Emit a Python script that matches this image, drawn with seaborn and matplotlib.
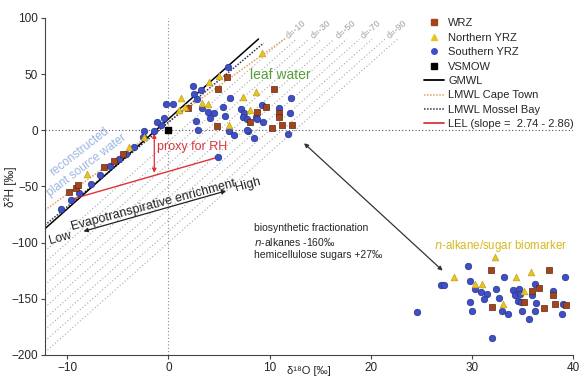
import numpy as np
import pandas as pd
import matplotlib
matplotlib.use("Agg")
import matplotlib.pyplot as plt
import seaborn as sns
from matplotlib.lines import Line2D

# ---------------------------------
# data
# ---------------------------------
# WRZ (brown squares): source water, leaf water, biomarker
wrz_o18 = [-9.8, -9.1, -8.9, -6.4, -5.4, -4.5, 1.9,
           4.8, 4.9, 5.8, 10.4, 9.6, 8.8, 8.1, 10.9, 10.9, 10.2, 11.2, 12.2,
           31.9, 32.0, 37.6, 35.1, 35.9, 36.6, 37.1, 38.0, 38.2, 39.3]
wrz_h2 = [-55, -51, -49, -33, -27, -21, 20,
          4, 37, 47, 37, 21, 16, 7, 15, 12, 2, 5, 5,
          -124, -157, -124, -153, -143, -140, -158, -147, -155, -156]

# Northern YRZ (yellow triangles)
nyrz_o18 = [-8.1, -3.9, -2.4, 1.0, 1.6, 4.0, 9.2,
            3.3, 3.9, 6.0, 7.4, 8.7, 8.1, 1.2, 5.0,
            28.2, 32.3, 30.3, 31.0, 33.1, 34.4, 35.8, 35.1]
nyrz_h2 = [-39, -15, -6, 18, 21, 43, 69,
           24, 23, 5, 30, 34, 18, 29, 48,
           -131, -113, -137, -137, -155, -131, -126, -143]

# Southern YRZ (blue circles)
syrz_o18 = [-10.6, -9.6, -8.8, -7.7, -6.8, -5.8, -4.9, -4.2, -3.4, -2.5, -1.4, -0.7,
            -2.4, 0.4, -0.2, -1.1, -0.4, 3.2, 5.9,
            2.4, 2.5, 2.8, 3.3, 3.9, 4.5, 5.4, 2.7, 4.1, 5.6, 6.0, 6.5, 7.9, 8.5, 6.1,
            9.2, 7.2, 7.5, 7.4, 7.8, 8.7, 8.8, 9.3, 10.9, 12.0, 11.8, 7.8, 12.1, 2.9, 4.9,
            24.6, 26.9, 27.2, 29.6, 29.8, 29.8, 30.0, 30.3, 30.9, 31.5, 31.2, 32.4, 32.7,
            33.0, 33.6, 33.2, 34.1, 34.6, 34.3, 34.7, 34.5, 34.8, 34.9, 35.6, 35.9, 36.3,
            36.2, 36.2, 38.0, 38.9, 39.0, 39.2, 32.0]
syrz_h2 = [-70, -62, -56, -48, -40, -32, -26, -21, -15, -6, -1, 4.5,
           -1, 23, 23, 7, 11, 36, 56,
           39, 32, 28, 20, 16, 15, 21, 8, 11, 13, -1, -4, -1, -7, 29,
           22, 19, 15, 12, 10, 12, 10, 7, 20, 15, -3, 0, 29, 0, -24,
           -162, -137.5, -137.5, -121, -134, -153, -161, -141, -144, -146, -150, -141, -149,
           -161, -164, -131, -142, -141, -147, -146, -152, -153, -161, -168, -147, -154,
           -161, -137, -143, -164, -155, -131, -185]

# meteoric water lines: slope, intercept, x range
gmwl = [8.0, 10.0, -12.2, 8.9]
lmwl_cape = [6.43, 7.4, -12.2, 11.6]
lmwl_mossel = [7.5, 7.0, -12.2, 9.4]
# local evaporation line end points
lel_o18 = [-9.4, 4.9]
lel_h2 = [-61, -24]
# d-excess reference lines
d_excess = [-10, -20, -30, -40, -50, -60, -70, -80, -90, -100]
d_labels = [-10, -30, -50, -70, -90]

blue, brown, yellow = "#3f4fc6", "#a5441c", "#e8c420"

sns.set_style("ticks")
plt.rcParams["font.family"] = ["Liberation Sans", "DejaVu Sans"]

fig = plt.figure(figsize=(5.81, 3.80), dpi=100)
ax = fig.add_axes([0.0775, 0.066, 0.909, 0.887])
ax.set_xlim(-12.2, 40)
ax.set_ylim(-200, 100)

# d-excess lines
for d in d_excess:
    x0 = -12.2
    x1 = (81 - d) / 8.0
    xs = np.array([x0, x1])
    ax.plot(xs, 8 * xs + d, color="#a8a8a8", lw=0.8, ls=(0, (1, 2)), zorder=1)
    if d in d_labels:
        ax.text(x1 + 0.3, 8 * x1 + d + 2, f"d={d}", color="#a0a0a0", fontsize=6.5,
                rotation=41, rotation_mode="anchor", ha="left", va="center")

ax.axhline(0, color="#555555", lw=0.8, ls=(0, (1, 2)), zorder=1)
ax.axvline(0, color="#888888", lw=0.8, ls=(0, (1, 2)), zorder=1)

for (m, b, a0, a1), col, ls in [(lmwl_cape, "#e0a060", (0, (1, 1))),
                                (lmwl_mossel, "#2c3350", (0, (1, 1))),
                                (gmwl, "black", "-")]:
    xs = np.array([a0, a1])
    ax.plot(xs, m * xs + b, color=col, lw=1.1, ls=ls, zorder=2)

ax.plot(lel_o18, lel_h2, color="#e0303a", lw=1.0, zorder=2)

# data points
sns.scatterplot(x=syrz_o18, y=syrz_h2, ax=ax, color=blue, marker="o", s=22,
                edgecolor="#27338a", linewidth=0.5, zorder=4)
sns.scatterplot(x=wrz_o18, y=wrz_h2, ax=ax, color=brown, marker="s", s=20,
                edgecolor="#5c2a10", linewidth=0.5, zorder=4)
sns.scatterplot(x=nyrz_o18, y=nyrz_h2, ax=ax, color=yellow, marker="^", s=24,
                edgecolor="#b89a10", linewidth=0.4, zorder=4)
ax.scatter([0], [0], marker="s", s=20, color="black", zorder=5)

# annotations
ax.annotate("", xy=(-1.4, -3), xytext=(-1.4, -38),
            arrowprops=dict(arrowstyle="<|-|>", color="#e0303a", lw=0.9,
                            mutation_scale=6, shrinkA=0, shrinkB=0))
ax.text(-1.1, -15, "proxy for RH", color="#d9393f", fontsize=9, va="center")

ax.annotate("", xy=(5.7, -54), xytext=(-8.4, -90),
            arrowprops=dict(arrowstyle="<|-|>", color="#222222", lw=0.9,
                            mutation_scale=6, shrinkA=0, shrinkB=0))
ax.text(-1.5, -67, "Evapotranspirative enrichment", fontsize=9, rotation=15,
        ha="center", va="center", color="#222222")
ax.text(-10.7, -96, "Low", fontsize=9, rotation=15, ha="center", va="center")
ax.text(7.9, -49, "High", fontsize=9, rotation=15, ha="center", va="center")

ax.text(-8.8, -19, "reconstructed", color="#9ab4e0", fontsize=8.5, rotation=38,
        ha="center", va="center")
ax.text(-8.1, -31, "plant source water", color="#9ab4e0", fontsize=8.5, rotation=37,
        ha="center", va="center")
ax.text(11.1, 49, "leaf water", color="#5a9e3a", fontsize=10, ha="center", va="center")

ax.text(8.5, -99, "biosynthetic fractionation\n$\\it{n}$-alkanes -160‰\nhemicellulose sugars +27‰",
        fontsize=7.5, ha="left", va="center", linespacing=1.3)
ax.text(26.2, -103, "$\\it{n}$-alkane/sugar biomarker", color="#d6b91c", fontsize=8.3,
        ha="left", va="center")
ax.annotate("", xy=(13.4, -11.6), xytext=(27.1, -125),
            arrowprops=dict(arrowstyle="<|-|>", color="#333333", lw=0.9,
                            mutation_scale=6, shrinkA=0, shrinkB=0))

# legend
handles = [
    Line2D([], [], ls="", marker="s", color=brown, markersize=4),
    Line2D([], [], ls="", marker="^", color=yellow, markersize=4),
    Line2D([], [], ls="", marker="o", color=blue, markersize=4),
    Line2D([], [], ls="", marker="s", color="black", markersize=4),
    Line2D([], [], color="black", lw=1.3),
    Line2D([], [], color="#e0a060", lw=1.1, ls=(0, (1, 1))),
    Line2D([], [], color="#2c3350", lw=1.1, ls=(0, (1, 1))),
    Line2D([], [], color="#e0303a", lw=1.3),
]
labels = ["WRZ", "Northern YRZ", "Southern YRZ", "VSMOW", "GMWL",
          "LMWL Cape Town", "LMWL Mossel Bay", "LEL (slope =  2.74 - 2.86)"]
fig.legend(handles, labels, loc="upper left", bbox_to_anchor=(0.73, 0.952),
           frameon=False, fontsize=8, handlelength=1.8, handletextpad=0.35,
           labelspacing=0.4, borderaxespad=0, borderpad=0)

ax.set_xticks([-10, 0, 10, 20, 30, 40])
ax.set_yticks([-200, -150, -100, -50, 0, 50, 100])
ax.tick_params(labelsize=8.5, length=3, color="#444444", pad=2)
ax.set_xlabel("δ¹⁸O [‰]", fontsize=8)
ax.xaxis.set_label_coords(0.5, -0.034)
ax.set_ylabel("δ²H [‰]", fontsize=8.5)
ax.yaxis.set_label_coords(-0.053, 0.5)
sns.despine(ax=ax)
for s in ["left", "bottom"]:
    ax.spines[s].set_color("#444444")

fig.savefig("out.png", dpi=100)
